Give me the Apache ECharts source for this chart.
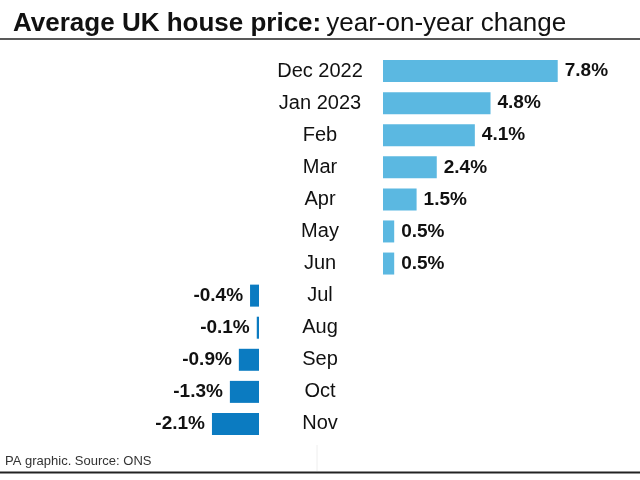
<!DOCTYPE html>
<html>
<head>
<meta charset="utf-8">
<script src="https://cdn.jsdelivr.net/npm/echarts@6/dist/echarts.min.js"></script>
<style>html,body{margin:0;padding:0;background:#fff}#c{width:640px;height:480px}</style>
</head>
<body>
<div id="c"></div>
<script>
var categories = ['Dec 2022','Jan 2023','Feb','Mar','Apr','May','Jun','Jul','Aug','Sep','Oct','Nov'];
var values = [7.8, 4.8, 4.1, 2.4, 1.5, 0.5, 0.5, -0.4, -0.1, -0.9, -1.3, -2.1];

var posData = values.map(function(v){ return v >= 0 ? v : '-'; });
var negData = values.map(function(v){ return v < 0 ? v : '-'; });

var chart = echarts.init(document.getElementById('c'));
var font = 'Liberation Sans, Arial, sans-serif';
chart.setOption({
  animation: false,
  backgroundColor: '#fff',
  title: {
    left: 8, top: 4,
    text: '{b|Average UK house price:} {n|year-on-year change}',
    textStyle: {
      rich: {
        b: {fontFamily: font, fontSize: 26, fontWeight: 'bold', color: '#111', lineHeight: 30},
        n: {fontFamily: font, fontSize: 26, fontWeight: 'normal', color: '#111', lineHeight: 30}
      }
    }
  },
  grid: [
    {left: 35, width: 224, top: 55, height: 385},
    {left: 383, width: 224, top: 55, height: 385}
  ],
  xAxis: [
    {gridIndex: 0, type: 'value', min: -10, max: 0, show: false},
    {gridIndex: 1, type: 'value', min: 0, max: 10, show: false}
  ],
  yAxis: [
    {gridIndex: 0, type: 'category', data: categories, inverse: true, show: false},
    {gridIndex: 1, type: 'category', data: categories, inverse: true,
     axisLine: {show: false}, axisTick: {show: false},
     axisLabel: {show: true, align: 'center', margin: 63, fontFamily: font, fontSize: 20, color: '#111'}}
  ],
  series: [
    {type: 'bar', xAxisIndex: 0, yAxisIndex: 0, data: negData, barWidth: 22,
     itemStyle: {color: '#0b7bc1'},
     label: {show: true, position: 'left', distance: 7, fontFamily: font, fontSize: 19, fontWeight: 'bold', color: '#111',
       formatter: function(p){ return p.value + '%'; }}},
    {type: 'bar', xAxisIndex: 1, yAxisIndex: 1, data: posData, barWidth: 22,
     itemStyle: {color: '#5bb8e1'},
     label: {show: true, position: 'right', distance: 7, fontFamily: font, fontSize: 19, fontWeight: 'bold', color: '#111',
       formatter: function(p){ return p.value + '%'; }}}
  ],
  graphic: [
    {type: 'line', shape: {x1: 0, y1: 39, x2: 640, y2: 39}, style: {stroke: '#222', lineWidth: 1.5}},
    {type: 'line', shape: {x1: 317, y1: 445, x2: 317, y2: 471}, style: {stroke: '#eeeeee', lineWidth: 1}},
    {type: 'line', shape: {x1: 0, y1: 472.5, x2: 640, y2: 472.5}, style: {stroke: '#222', lineWidth: 2}},
    {type: 'text', left: 5, top: 455, style: {text: 'PA graphic. Source: ONS', font: '13px Liberation Sans, Arial, sans-serif', fill: '#333'}}
  ]
});
</script>
</body>
</html>
